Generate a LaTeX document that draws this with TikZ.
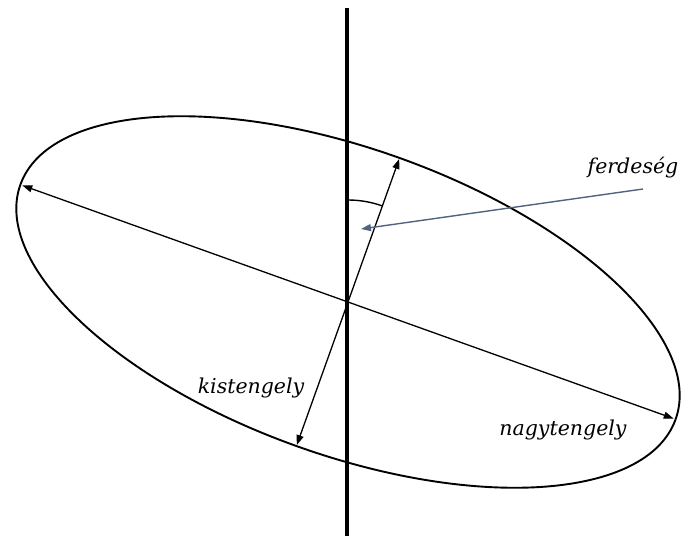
\documentclass[tikz,border=0pt]{standalone}
\usepackage{fontspec}
\setmainfont{DejaVu Serif}
\usetikzlibrary{arrows.meta,calc}
\tikzset{
  axisarrow/.style={line width=1.3pt,-{Triangle[length=10pt,width=7pt]}},
  lbl/.style={font=\itshape\fontsize{20.5}{24}\selectfont,inner sep=0pt}
}
\begin{document}
\begin{tikzpicture}[x=1pt,y=1pt]
\useasboundingbox (0,0) rectangle (681,536);
\coordinate (c) at (348,234);
% ellipse
\draw[line width=1.9pt,rotate around={-19.7:(c)}] (c) ellipse [x radius=348, y radius=153];
% vertical line
\coordinate (vtop) at (347,528);
\coordinate (vbot) at (347,0);
\draw[line width=3.4pt] (vtop) -- (vbot);
% axes endpoints
\coordinate (majL) at ($(c)+(160.3:346)$);
\coordinate (majR) at ($(c)+(-19.7:346)$);
\coordinate (minT) at ($(c)+(70.3:152)$);
\coordinate (minB) at ($(c)+(250.3:152)$);
\draw[axisarrow] (c) -- (majL);
\draw[axisarrow] (c) -- (majR);
\draw[axisarrow] (c) -- (minT);
\draw[axisarrow] (c) -- (minB);
% angle arc
\draw[line width=1.4pt] ($(c)+(90:102)$) arc[start angle=90,end angle=70.3,radius=102];
% labels
\node[lbl] (ferd) at (633,368) {ferdeség};
\node[lbl] (kis) at (251,148) {kistengely};
\node[lbl] (nagy) at (563,106) {nagytengely};
% ferdeseg arrow
\coordinate (fs) at (643,347);
\coordinate (fe) at (361,307);
\draw[line width=1.4pt,color={rgb,255:red,80;green,100;blue,130},-{Triangle[length=10pt,width=7pt]}] (fs) -- (fe);
\end{tikzpicture}
\end{document}
